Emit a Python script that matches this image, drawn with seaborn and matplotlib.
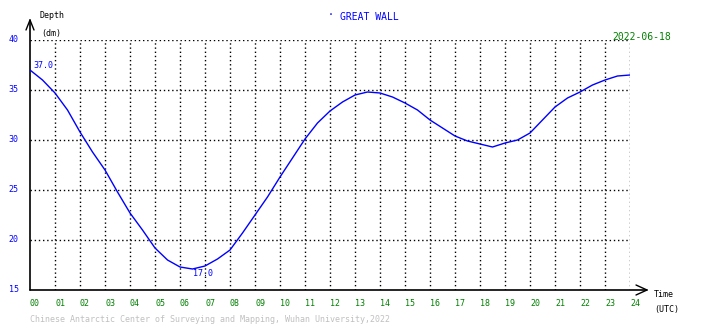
import matplotlib
matplotlib.use("Agg")
import matplotlib.pyplot as plt
import matplotlib.transforms as mtransforms
import seaborn as sns
import pandas as pd

# ---- data ----
hours = [0, 0.5, 1, 1.5, 2, 2.5, 3, 3.5, 4, 4.5, 5, 5.5, 6, 6.5, 7, 7.5, 8, 8.5,
         9, 9.5, 10, 10.5, 11, 11.5, 12, 12.5, 13, 13.5, 14, 14.5, 15, 15.5, 16,
         16.5, 17, 17.5, 18, 18.5, 19, 19.5, 20, 20.5, 21, 21.5, 22, 22.5, 23,
         23.5, 24]
depth = [37.0, 36.0, 34.7, 33.0, 30.8, 28.8, 27.0, 24.8, 22.7, 21.0, 19.2, 18.0,
         17.3, 17.1, 17.4, 18.1, 19.0, 20.7, 22.5, 24.3, 26.3, 28.2, 30.1, 31.7,
         32.9, 33.8, 34.5, 34.8, 34.7, 34.3, 33.7, 33.0, 32.0, 31.2, 30.4, 29.9,
         29.6, 29.3, 29.7, 30.0, 30.7, 32.0, 33.3, 34.2, 34.8, 35.5, 36.0, 36.4,
         36.5]
x_ticks = list(range(0, 25))
x_tick_labels = [f"{h:02d}" for h in x_ticks]
y_ticks = [15, 20, 25, 30, 35, 40]
y_tick_labels = ["15", "20", "25", "30", "35", "40"]
station = "GREAT WALL"
date_str = "2022-06-18"
max_label = "37.0"
min_label = "17.0"

df = pd.DataFrame({"hour": hours, "depth": depth})

sns.set_style("white")
plt.rcParams["font.family"] = ["DejaVu Sans Mono"]

W, H = 710, 328
fig = plt.figure(figsize=(W / 100, H / 100), dpi=100)
fig.patch.set_facecolor("white")
ax = fig.add_axes([30 / W, (H - 290) / H, 600 / W, 250 / H])
ax.set_facecolor("white")

BLUE = "#0000ff"
GREEN = "#008000"

ax.set_xlim(0, 24)
ax.set_ylim(15, 40)
for s in ax.spines.values():
    s.set_visible(False)

# dotted grid
dot = (0, (1, 2))
for yv in [20, 25, 30, 35, 40]:
    ax.plot([0, 24], [yv, yv], color="black", lw=1, ls=dot, zorder=1)
for xv in range(1, 25):
    ax.plot([xv, xv], [15, 40], color="black", lw=1, ls=dot, zorder=1)

# axis lines with open arrow heads
ax.plot([0, 0], [15, 42], color="black", lw=1.2, clip_on=False, zorder=3)
ax.plot([-0.16, 0, 0.16], [41.0, 42, 41.0], color="black", lw=1, clip_on=False, zorder=3)
ax.plot([0, 24.68], [15, 15], color="black", lw=1.2, clip_on=False, zorder=3)
ax.plot([24.24, 24.68, 24.24], [15.5, 15, 14.5], color="black", lw=1, clip_on=False, zorder=3)

# data
sns.lineplot(data=df, x="hour", y="depth", ax=ax, color=BLUE, lw=1.0, zorder=4)

ax.set_xlabel("")
ax.set_ylabel("")
ax.set_xticks(x_ticks)
ax.set_xticklabels(x_tick_labels, color=GREEN, fontsize=6, ha="left")
ax.set_yticks(y_ticks)
ax.set_yticklabels(y_tick_labels, color=BLUE, fontsize=6)
ax.tick_params(axis="x", length=0, pad=6.5)
ax.tick_params(axis="y", length=0, pad=8)
shift = mtransforms.ScaledTranslation(0, 2 / 100, fig.dpi_scale_trans)
for lbl in ax.get_yticklabels():
    lbl.set_transform(lbl.get_transform() + shift)

# annotations
ax.text(0.12, 37.4, max_label, color=BLUE, fontsize=6, ha="left", va="center")
ax.text(6.52, 16.6, min_label, color=BLUE, fontsize=6, ha="left", va="center")


def ftext(x, y, s, **kw):
    fig.text(x / W, 1 - y / H, s, va="center", ha="left", **kw)


ftext(40, 16, "Depth", color="black", fontsize=6)
ftext(41, 33.5, "(dm)", color="black", fontsize=6)
ftext(328, 15, "\u00b7", color=BLUE, fontsize=7)
ftext(340, 17, station, color=BLUE, fontsize=7)
ftext(612, 36.5, date_str, color=GREEN, fontsize=7)
ftext(654, 294.5, "Time", color="black", fontsize=6)
ftext(654, 309.5, "(UTC)", color="black", fontsize=6)
ftext(30, 320, "Chinese Antarctic Center of Surveying and Mapping, Wuhan University,2022",
      color="#c0c0c0", fontsize=6)

fig.savefig("out.png", dpi=100)
